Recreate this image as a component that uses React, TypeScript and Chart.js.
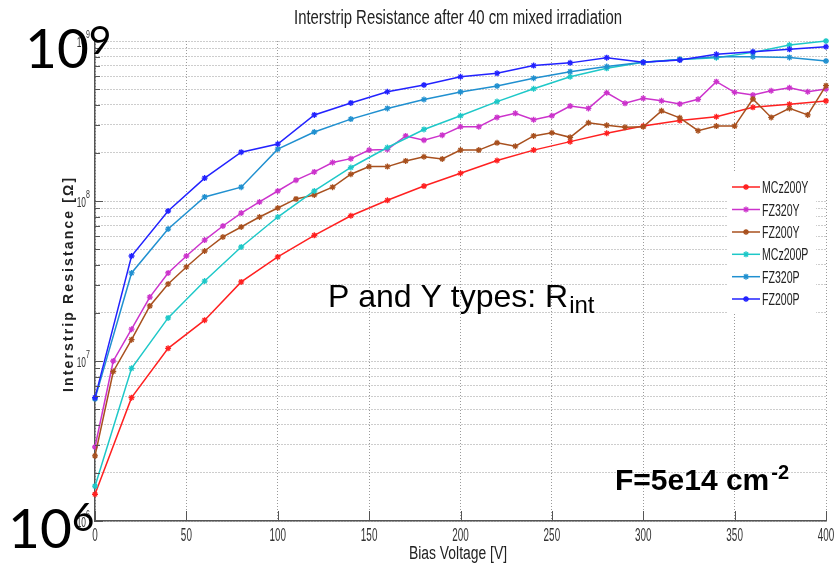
import React, { useEffect, useRef } from 'react';
import { Chart, registerables } from 'chart.js';

Chart.register(...registerables);

// ---- data ----
const voltages20 = [0, 20, 40, 60, 80, 100, 120, 140, 160, 180, 200, 220, 240, 260, 280, 300, 320, 340, 360, 380, 400];
const voltages10 = [0, 10, 20, 30, 40, 50, 60, 70, 80, 90, 100, 110, 120, 130, 140, 150, 160, 170, 180, 190, 200, 210, 220, 230, 240, 250, 260, 270, 280, 290, 300, 310, 320, 330, 340, 350, 360, 370, 380, 390, 400];

const mcz200Y = [1.47e6, 5.9e6, 1.2e7, 1.8e7, 3.12e7, 4.47e7, 6.1e7, 8.09e7, 1.01e8, 1.24e8, 1.49e8, 1.79e8, 2.08e8, 2.35e8, 2.65e8, 2.94e8, 3.18e8, 3.36e8, 3.85e8, 4.02e8, 4.22e8];
const fz320Y = [2.9e6, 1.0e7, 1.58e7, 2.51e7, 3.55e7, 4.53e7, 5.7e7, 6.98e7, 8.4e7, 9.86e7, 1.155e8, 1.35e8, 1.52e8, 1.74e8, 1.84e8, 2.08e8, 2.1e8, 2.55e8, 2.4e8, 2.58e8, 2.91e8, 2.91e8, 3.33e8, 3.53e8, 3.22e8, 3.41e8, 3.92e8, 3.79e8, 4.75e8, 4.08e8, 4.38e8, 4.23e8, 4.04e8, 4.32e8, 5.57e8, 4.78e8, 4.6e8, 4.89e8, 5.1e8, 4.82e8, 5.01e8];
const fz200Y = [2.55e6, 8.6e6, 1.36e7, 2.21e7, 3.03e7, 3.87e7, 4.87e7, 5.96e7, 6.88e7, 7.94e7, 9.04e7, 1.03e8, 1.09e8, 1.22e8, 1.47e8, 1.64e8, 1.64e8, 1.78e8, 1.89e8, 1.83e8, 2.08e8, 2.08e8, 2.31e8, 2.2e8, 2.55e8, 2.67e8, 2.5e8, 3.08e8, 2.97e8, 2.89e8, 2.91e8, 3.66e8, 3.31e8, 2.75e8, 2.94e8, 2.94e8, 4.34e8, 3.33e8, 3.79e8, 3.45e8, 5.26e8];
const mcz200P = [1.65e6, 9.0e6, 1.86e7, 3.16e7, 5.16e7, 7.94e7, 1.155e8, 1.62e8, 2.16e8, 2.8e8, 3.41e8, 4.18e8, 5.03e8, 5.98e8, 6.75e8, 7.36e8, 7.67e8, 7.87e8, 8.49e8, 9.44e8, 1.0e9];
const fz320P = [5.8e6, 3.55e7, 6.68e7, 1.06e8, 1.22e8, 2.11e8, 2.7e8, 3.25e8, 3.79e8, 4.31e8, 4.8e8, 5.23e8, 5.85e8, 6.43e8, 6.92e8, 7.36e8, 7.67e8, 7.98e8, 7.98e8, 7.9e8, 7.5e8];
const fz200P = [5.9e6, 4.53e7, 8.66e7, 1.39e8, 2.02e8, 2.27e8, 3.45e8, 4.1e8, 4.82e8, 5.31e8, 5.98e8, 6.28e8, 7.02e8, 7.3e8, 7.87e8, 7.36e8, 7.6e8, 8.26e8, 8.57e8, 8.87e8, 9.2e8];

const seriesNames = ['MCz200Y', 'FZ320Y', 'FZ200Y', 'MCz200P', 'FZ320P', 'FZ200P'];
const seriesColors = ['#ff2020', '#cc33cc', '#a8501e', '#1ec8c8', '#2090d0', '#2222ff'];
const seriesValues = [mcz200Y, fz320Y, fz200Y, mcz200P, fz320P, fz200P];
const seriesVoltages = [voltages20, voltages10, voltages10, voltages20, voltages20, voltages20];

const xTickLabels = [0, 50, 100, 150, 200, 250, 300, 350, 400];
const yDecadeExponents = [6, 7, 8, 9];

const titleText = 'Interstrip Resistance after 40 cm mixed irradiation';
const xTitleText = 'Bias Voltage [V]';
const yTitleText = 'Interstrip Resistance [Ω]';

function yGridValues(): number[] {
  const vals: number[] = [];
  for (let e = 6; e < 9; e++) {
    for (let m = 1; m <= 9; m++) vals.push(m * Math.pow(10, e));
  }
  vals.push(1e9);
  return vals;
}

function drawScaled(ctx: CanvasRenderingContext2D, text: string, x: number, y: number, font: string, color: string, align: CanvasTextAlign, scaleX: number) {
  ctx.save();
  ctx.font = font;
  ctx.fillStyle = color;
  ctx.textAlign = align;
  ctx.textBaseline = 'alphabetic';
  ctx.translate(x, y);
  ctx.scale(scaleX, 1);
  ctx.fillText(text, 0, 0);
  ctx.restore();
}

function drawFitted(ctx: CanvasRenderingContext2D, text: string, cx: number, y: number, font: string, color: string, width: number) {
  ctx.save();
  ctx.font = font;
  const w = ctx.measureText(text).width;
  ctx.restore();
  drawScaled(ctx, text, cx, y, font, color, 'center', width / w);
}

function drawStar(ctx: CanvasRenderingContext2D, x: number, y: number, r: number, color: string) {
  ctx.save();
  ctx.strokeStyle = color;
  ctx.lineWidth = 1.3;
  ctx.beginPath();
  ctx.moveTo(x - r, y); ctx.lineTo(x + r, y);
  ctx.moveTo(x, y - r); ctx.lineTo(x, y + r);
  const d = r * 0.707;
  ctx.moveTo(x - d, y - d); ctx.lineTo(x + d, y + d);
  ctx.moveTo(x - d, y + d); ctx.lineTo(x + d, y - d);
  ctx.stroke();
  ctx.restore();
}

const decorPlugin = {
  id: 'decor',
  afterDatasetsDraw(chart: any) {
    const ctx: CanvasRenderingContext2D = chart.ctx;
    // legend box
    ctx.save();
    ctx.fillStyle = '#ffffff';
    ctx.fillRect(727, 172, 89, 142);
    ctx.restore();
    const ys = [187, 209.5, 232, 254.3, 276.7, 299];
    seriesNames.forEach((name, i) => {
      const y = ys[i];
      ctx.save();
      ctx.strokeStyle = seriesColors[i];
      ctx.lineWidth = 1.5;
      ctx.beginPath();
      ctx.moveTo(732, y);
      ctx.lineTo(760, y);
      ctx.stroke();
      ctx.restore();
      drawStar(ctx, 746, y, 3, seriesColors[i]);
      drawScaled(ctx, name, 762, y + 6, '16px "Liberation Sans", Arial, sans-serif', '#222', 'left', 0.66);
    });
  },
  afterDraw(chart: any) {
    const ctx: CanvasRenderingContext2D = chart.ctx;
    const xs = chart.scales.x;
    const ys = chart.scales.y;
    const area = chart.chartArea;

    // inward ticks
    ctx.save();
    ctx.strokeStyle = '#555';
    ctx.lineWidth = 1;
    ctx.beginPath();
    yGridValues().forEach((v) => {
      const py = Math.round(ys.getPixelForValue(v)) + 0.5;
      const major = Math.abs(Math.log10(v) - Math.round(Math.log10(v))) < 1e-9;
      ctx.moveTo(area.left, py);
      ctx.lineTo(area.left + (major ? 8 : 5), py);
    });
    xTickLabels.forEach((v) => {
      const px = Math.round(xs.getPixelForValue(v)) + 0.5;
      ctx.moveTo(px, area.bottom);
      ctx.lineTo(px, area.bottom - 10);
    });
    ctx.stroke();
    ctx.restore();

    // x tick labels
    xTickLabels.forEach((v) => {
      const px = xs.getPixelForValue(v);
      drawScaled(ctx, String(v), px, 541, '18px "Liberation Sans", Arial, sans-serif', '#333', 'center', 0.55);
    });
    // y tick labels
    yDecadeExponents.forEach((e) => {
      const py = ys.getPixelForValue(Math.pow(10, e));
      drawScaled(ctx, '10', 86, py + 5.5, '14px "Liberation Sans", Arial, sans-serif', '#333', 'right', 0.6);
      drawScaled(ctx, String(e), 86, py - 3, '10px "Liberation Sans", Arial, sans-serif', '#333', 'left', 0.7);
    });

    // title
    drawFitted(ctx, titleText, 458, 24, '20px "Liberation Sans", Arial, sans-serif', '#222', 328);
    // x title
    drawFitted(ctx, xTitleText, 458, 559, '18px "Liberation Sans", Arial, sans-serif', '#222', 98);
    // y title
    ctx.save();
    ctx.translate(73, 285);
    ctx.rotate(-Math.PI / 2);
    ctx.font = 'bold 14px "Liberation Sans", Arial, sans-serif';
    const w = ctx.measureText(yTitleText).width;
    const spacing = (214 - w) / (yTitleText.length - 1);
    (ctx as any).letterSpacing = spacing.toFixed(2) + 'px';
    ctx.fillStyle = '#222';
    ctx.textAlign = 'left';
    ctx.fillText(yTitleText, -107, 0);
    ctx.restore();

    // annotation: P and Y types: R_int
    ctx.save();
    ctx.fillStyle = '#000';
    ctx.font = '32px "Liberation Sans", Arial, sans-serif';
    ctx.textAlign = 'left';
    const mainTxt = 'P and Y types: R';
    ctx.fillText(mainTxt, 328, 307);
    const mw = ctx.measureText(mainTxt).width;
    ctx.font = '24px "Liberation Sans", Arial, sans-serif';
    ctx.fillText('int', 328 + mw + 1, 313);
    ctx.restore();

    // annotation: F=5e14 cm^-2
    ctx.save();
    ctx.fillStyle = '#000';
    ctx.font = 'bold 30px "Liberation Sans", Arial, sans-serif';
    const fTxt = 'F=5e14 cm';
    ctx.fillText(fTxt, 615, 490);
    const fw = ctx.measureText(fTxt).width;
    ctx.font = 'bold 20px "Liberation Sans", Arial, sans-serif';
    ctx.fillText('-2', 615 + fw + 2, 479);
    ctx.restore();

    // big decade labels
    const bigLabel = (x: number, base: number, exp: string, supBase: number) => {
      ctx.save();
      ctx.fillStyle = '#000';
      ctx.font = '55px Lato, "Open Sans", sans-serif';
      ctx.fillText('10', x, base);
      const bw = ctx.measureText('10').width;
      ctx.font = '39px Lato, "Open Sans", sans-serif';
      ctx.fillText(exp, x + bw, supBase);
      ctx.restore();
    };
    bigLabel(25, 68, '9', 54);
    bigLabel(8, 548, '6', 531);
  },
};

export default function App() {
  const canvasRef = useRef<HTMLCanvasElement | null>(null);

  useEffect(() => {
    const canvas = canvasRef.current;
    if (!canvas) return;
    const datasets = seriesNames.map((name, i) => ({
      label: name,
      data: seriesVoltages[i].map((v, j) => ({ x: v, y: seriesValues[i][j] })),
      borderColor: seriesColors[i],
      backgroundColor: seriesColors[i],
      pointBackgroundColor: seriesColors[i],
      pointBorderColor: seriesColors[i],
      borderWidth: 1.5,
      pointStyle: 'star' as const,
      pointRadius: 3,
      pointBorderWidth: 1.3,
      tension: 0,
      fill: false,
      clip: 6,
      order: seriesNames.length - i,
    }));
    const chart = new Chart(canvas, {
      type: 'line',
      data: { datasets },
      options: {
        animation: false,
        responsive: false,
        devicePixelRatio: 1,
        layout: { padding: { top: 41, right: 10, left: 0, bottom: 0 } },
        plugins: {
          legend: { display: false },
          title: { display: false },
          tooltip: { enabled: false },
        },
        scales: {
          x: {
            type: 'linear',
            min: 0,
            max: 400,
            ticks: { stepSize: 50, display: false },
            grid: { color: '#9a9a9a', lineWidth: 1, drawTicks: false },
            border: { display: true, color: '#555', width: 1.5, dash: [1, 2] },
            afterFit: (s: any) => { s.height = 50; },
          },
          y: {
            type: 'logarithmic',
            min: 1e6,
            max: 1e9,
            afterBuildTicks: (s: any) => { s.ticks = yGridValues().map((v) => ({ value: v })); },
            ticks: { display: false },
            grid: { color: '#9a9a9a', lineWidth: 1, drawTicks: false },
            border: { display: true, color: '#555', width: 1.5, dash: [1, 2] },
            afterFit: (s: any) => { s.width = 95; },
          },
        },
      },
      plugins: [decorPlugin],
    });
    return () => chart.destroy();
  }, []);

  return (
    <div style={{ position: 'fixed', left: 0, top: 0, width: 836, height: 571, background: '#fff' }}>
      <canvas ref={canvasRef} width={836} height={571} style={{ width: 836, height: 571, display: 'block' }} />
    </div>
  );
}
